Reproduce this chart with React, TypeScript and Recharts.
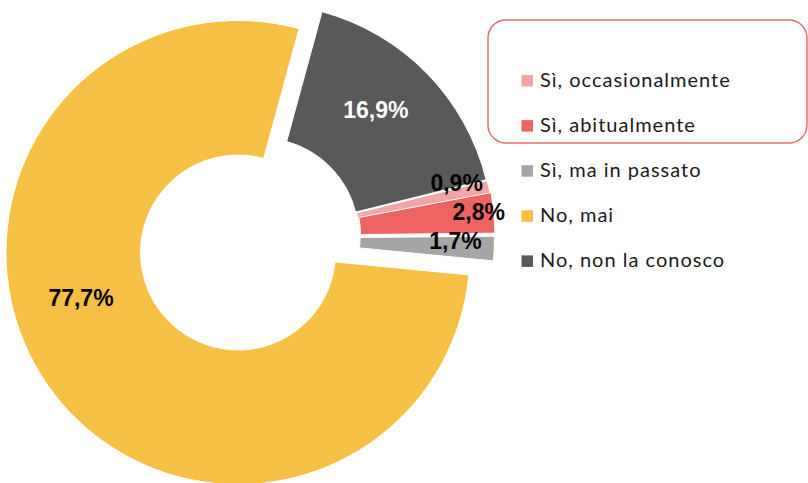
import { PieChart, Pie, Cell, Legend } from "recharts";

const categories = [
  "Sì, occasionalmente",
  "Sì, abitualmente",
  "Sì, ma in passato",
  "No, mai",
  "No, non la conosco",
];
const values = [0.9, 2.8, 1.7, 77.7, 16.9];
const valueLabels = ["0,9%", "2,8%", "1,7%", "77,7%", "16,9%"];
const colors = ["#F3A4A6", "#EE6462", "#A5A5A5", "#F5C043", "#595959"];
const labelColors = ["#000", "#000", "#000", "#000", "#fff"];

// exploded points: each slice has its own centre (px)
const sliceCenters = [
  [262, 236.5],
  [263, 235.5],
  [262.5, 238.5],
  [238, 252.5],
  [261, 235.5],
];
// label placement: [radius, degrees clockwise from 12 o'clock]
const labelPolar = [
  [202, 74.5],
  [217, 83.8],
  [193, 90.7],
  [163.5, 253.8],
  [170, 42.5],
];
const drawOrder = [3, 4, 0, 1, 2];

const data = categories.map((name, i) => ({ name, value: values[i] }));

const makeLabel = (k: number) => (props: any) => {
  if (props.index !== k) return null;
  const [r, deg] = labelPolar[k];
  const a = (deg * Math.PI) / 180;
  const x = props.cx + r * Math.sin(a);
  const y = props.cy - r * Math.cos(a);
  return (
    <text
      x={x}
      y={y}
      textAnchor="middle"
      dominantBaseline="central"
      fill={labelColors[k]}
      fontFamily="'Liberation Sans', Arial, sans-serif"
      fontWeight="bold"
      fontSize={23}
    >
      {valueLabels[k]}
    </text>
  );
};

const renderLegend = () => (
  <svg width={328} height={290}>
    <rect
      x={8}
      y={20}
      width={319}
      height={123}
      rx={18}
      fill="none"
      stroke="#EA6C6E"
      strokeWidth={1.5}
    />
    {categories.map((c, i) => (
      <g key={c}>
        <rect x={41.5} y={75 + i * 45.1} width={11.5} height={11.5} fill={colors[i]} />
        <text
          x={60}
          y={87 + i * 45.1}
          fill="#1a1a1a"
          fontFamily="Lato, 'Open Sans', sans-serif"
          fontSize={20}
          letterSpacing={1}
        >
          {c}
        </text>
      </g>
    ))}
  </svg>
);

export default function App() {
  return (
    <div style={{ position: "absolute", left: 0, top: 0, width: 808, height: 483, background: "#fff" }}>
      <PieChart width={808} height={483} margin={{ top: 0, right: 0, bottom: 0, left: 0 }}>
        {drawOrder.map((k) => (
          <Pie
            key={k}
            data={data}
            dataKey="value"
            nameKey="name"
            cx={sliceCenters[k][0]}
            cy={sliceCenters[k][1]}
            innerRadius={97.5}
            outerRadius={232}
            startAngle={13.9}
            endAngle={-346.1}
            label={makeLabel(k)}
            labelLine={false}
            legendType="none"
            isAnimationActive={false}
          >
            {data.map((d, i) => (
              <Cell
                key={d.name}
                fill={i === k ? colors[i] : "transparent"}
                stroke={i === k ? "#fff" : "none"}
                strokeWidth={i === k ? 1 : 0}
              />
            ))}
          </Pie>
        ))}
        <Legend
          layout="vertical"
          align="right"
          verticalAlign="top"
          content={renderLegend}
          wrapperStyle={{ left: 480, top: 0, width: 328, height: 290 }}
        />
      </PieChart>
    </div>
  );
}
